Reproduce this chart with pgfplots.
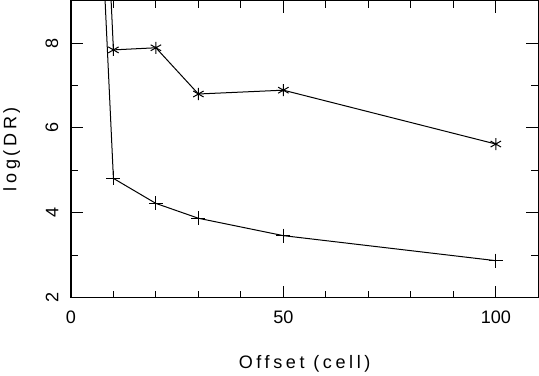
\documentclass[border=0pt]{standalone}
\usepackage{fontspec}
\setmainfont{Liberation Sans}
\newfontfamily\labelfont[LetterSpace=20]{Liberation Sans}
\usepackage{pgfplots}
\pgfplotsset{compat=1.18}

\begin{document}
\begin{tikzpicture}
\begin{axis}[
  scale only axis, width=466pt, height=296pt,
  xmin=0, xmax=110, ymin=2, ymax=9,
  xtick={0,50,100}, minor xtick={10,20,30,40,60,70,80,90},
  ytick={2,4,6,8}, minor ytick={3,5,7},
  tick align=inside, major tick length=12pt, minor tick length=7pt,
  axis line style={line width=1.4pt},
  every tick/.style={black, line width=1.1pt},
  /pgf/number format/assume math mode=true,
  tick label style={font=\fontsize{18}{20}\selectfont},
  yticklabel style={rotate=90, anchor=south},
  xticklabel shift=10pt, yticklabel shift=9pt,
  xlabel={\labelfont Offset (cell)}, ylabel={\labelfont log(DR)},
  label style={font=\fontsize{18}{20}\selectfont},
  xlabel style={at={(axis description cs:0.5,-0.223)}, anchor=center},
  ylabel style={at={(axis description cs:-0.1266,0.5)}, anchor=center},
]
% first point lies above the frame; only its line segment shows
\addplot[black, line width=1pt, mark=asterisk, mark size=6pt, mark indices={1,2,3,4,5},
  mark options={line width=1pt}] coordinates {
  (5,18.6) (10,7.84) (20,7.89) (30,6.80) (50,6.89) (100,5.62)
};
\addplot[black, line width=1pt, mark=+, mark size=7pt, mark indices={1,2,3,4,5},
  mark options={line width=1pt}] coordinates {
  (5,15.5) (10,4.81) (20,4.22) (30,3.87) (50,3.46) (100,2.87)
};
\end{axis}
\end{tikzpicture}
\end{document}
